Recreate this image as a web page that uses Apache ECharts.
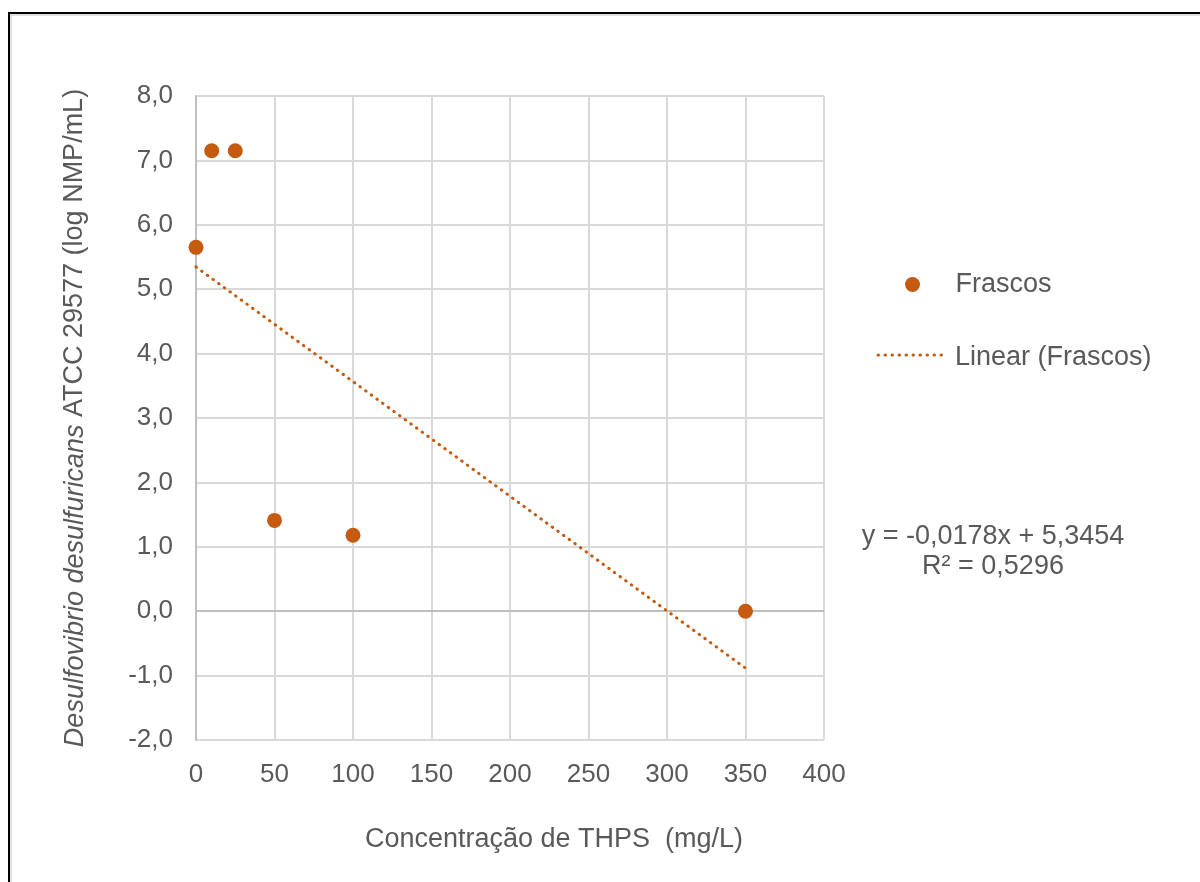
<!DOCTYPE html>
<html>
<head>
<meta charset="utf-8">
<title>Frascos – THPS</title>
<script src="https://cdn.jsdelivr.net/npm/echarts@6/dist/echarts.min.js"></script>
<style>
  html, body { margin: 0; padding: 0; background: #ffffff; }
  #chart { width: 1200px; height: 882px; }
</style>
</head>
<body>
<div id="chart"></div>
<script>
// THPS concentration (mg/L) and measured counts (log NMP/mL)
const concentrations = [0, 10, 25, 50, 100, 350];
const logCounts = [5.65, 7.15, 7.15, 1.41, 1.18, 0.0];

// Linear trendline as reported: y = -0,0178x + 5,3454
const trendSlope = -0.0178;
const trendIntercept = 5.3454;
const trendRange = [0, 350];
const rSquared = 0.5296;

const xTicks = { min: 0, max: 400, step: 50 };
const yTicks = { min: -2, max: 8, step: 1 };

const seriesName = 'Frascos';
const trendName = 'Linear (Frascos)';

const ORANGE = '#C55A11';
const TEXT = '#595959';
const FONT = '"Liberation Sans", Arial, sans-serif';
const TICK_SIZE = 26;
const LABEL_SIZE = 27;

const fmt = (v, d) => v.toFixed(d).replace('.', ',');

const scatterData = concentrations.map((x, i) => [x, logCounts[i]]);
const trendData = trendRange.map(x => [x, trendSlope * x + trendIntercept]);

const chart = echarts.init(document.getElementById('chart'), null, { renderer: 'canvas' });

chart.setOption({
  animation: false,
  backgroundColor: '#ffffff',
  textStyle: { fontFamily: FONT },
  grid: { left: 196, right: 376, top: 96, bottom: 142 },
  xAxis: {
    type: 'value',
    min: xTicks.min, max: xTicks.max, interval: xTicks.step,
    axisLine: { show: false, onZero: false },
    axisTick: { show: false },
    axisLabel: { color: TEXT, fontSize: TICK_SIZE, fontFamily: FONT, margin: 22 },
    splitLine: { show: true, lineStyle: { color: '#d9d9d9', width: 2 } }
  },
  yAxis: {
    type: 'value',
    min: yTicks.min, max: yTicks.max, interval: yTicks.step,
    axisLine: { show: true, lineStyle: { color: '#bfbfbf', width: 2 } },
    axisTick: { show: false },
    axisLabel: { color: TEXT, fontSize: TICK_SIZE, fontFamily: FONT, margin: 23, formatter: v => fmt(v, 1) },
    splitLine: { show: true, lineStyle: { color: '#d9d9d9', width: 2 } }
  },
  legend: {
    data: [seriesName],
    orient: 'vertical',
    left: 900, top: 266,
    icon: 'circle',
    itemWidth: 76, itemHeight: 15,
    textStyle: { color: TEXT, fontSize: LABEL_SIZE, fontFamily: FONT },
    selectedMode: false
  },
  series: [
    {
      name: trendName,
      type: 'line',
      data: trendData,
      symbol: 'none',
      silent: true,
      z: 3,
      lineStyle: { color: ORANGE, width: 3, type: [0.5, 6.5], cap: 'round' },
      itemStyle: { color: ORANGE }
    },
    {
      name: seriesName,
      type: 'scatter',
      data: scatterData,
      symbol: 'circle',
      symbolSize: 15,
      z: 4,
      itemStyle: { color: ORANGE, opacity: 1 },
      markLine: {
        silent: true,
        symbol: 'none',
        label: { show: false },
        lineStyle: { color: '#bfbfbf', width: 2, type: 'solid' },
        data: [{ yAxis: 0 }],
        z: 1
      }
    }
  ],
  graphic: [
    // outer frame
    { type: 'rect', silent: true, z: 0,
      shape: { x: 9, y: 13, width: 1400, height: 1000 },
      style: { fill: null, stroke: '#000000', lineWidth: 2 } },
    { type: 'rect', silent: true, z: 0,
      shape: { x: 11, y: 15, width: 1400, height: 1000 },
      style: { fill: null, stroke: '#d6d6d6', lineWidth: 1.5 } },
    // legend entry for the trendline (dotted sample + name)
    { type: 'line', silent: true, z: 10,
      shape: { x1: 878, y1: 355, x2: 943, y2: 355 },
      style: { stroke: ORANGE, lineWidth: 3, lineDash: [0.5, 6.5], lineCap: 'round' } },
    { type: 'text', silent: true, z: 10,
      x: 955, y: 358,
      style: {
        text: trendName,
        font: LABEL_SIZE + 'px ' + FONT, fill: TEXT,
        align: 'left', verticalAlign: 'middle'
      } },
    // y-axis title
    { type: 'text', silent: true, z: 10,
      x: 75, y: 418, rotation: Math.PI / 2,
      style: {
        text: '{i|Desulfovibrio desulfuricans} ATCC 29577 (log NMP/mL)',
        font: LABEL_SIZE + 'px ' + FONT,
        fill: TEXT,
        align: 'center', verticalAlign: 'middle',
        rich: { i: { fontStyle: 'italic', fontSize: LABEL_SIZE, fontFamily: FONT, fill: TEXT } }
      } },
    // x-axis title
    { type: 'text', silent: true, z: 10,
      x: 554, y: 840,
      style: {
        text: 'Concentração de THPS  (mg/L)',
        font: LABEL_SIZE + 'px ' + FONT,
        fill: TEXT,
        align: 'center', verticalAlign: 'middle'
      } },
    // trendline equation
    { type: 'text', silent: true, z: 10,
      x: 993, y: 537,
      style: {
        text: 'y = ' + fmt(trendSlope, 4) + 'x + ' + fmt(trendIntercept, 4),
        font: LABEL_SIZE + 'px ' + FONT, fill: TEXT,
        align: 'center', verticalAlign: 'middle'
      } },
    { type: 'text', silent: true, z: 10,
      x: 993, y: 567,
      style: {
        text: 'R² = ' + fmt(rSquared, 4),
        font: LABEL_SIZE + 'px ' + FONT, fill: TEXT,
        align: 'center', verticalAlign: 'middle'
      } }
  ]
});
</script>
</body>
</html>
